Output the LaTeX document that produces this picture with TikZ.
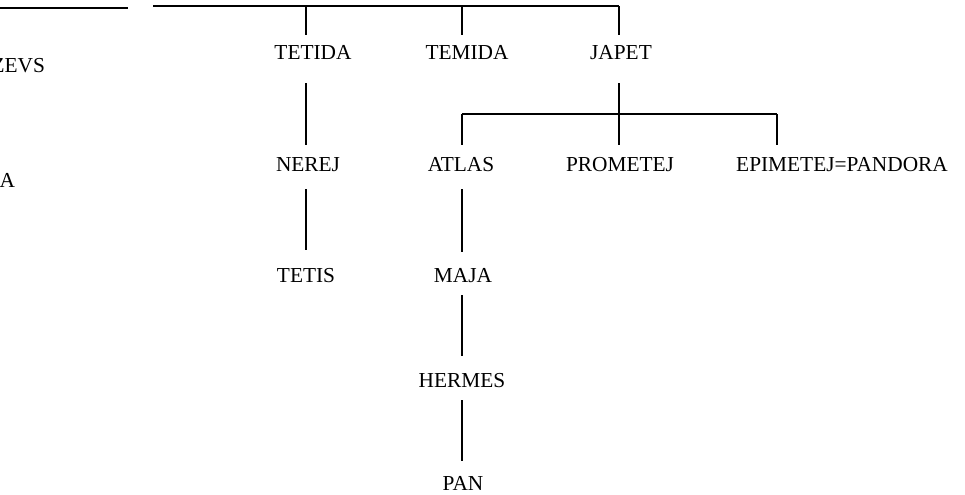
\documentclass[tikz,border=0pt]{standalone}
\usepackage{fontspec}
\setmainfont{Liberation Serif}
\begin{document}
\begin{tikzpicture}[x=0.75pt,y=-0.75pt,
  lbl/.style={anchor=base,inner sep=0pt,outer sep=0pt,text height=10.5pt,text depth=0pt,
    font=\fontsize{16pt}{19pt}\selectfont},
  ln/.style={line width=1.3pt,line cap=butt}]
\useasboundingbox (0,0) rectangle (965,494);
\clip (0,0) rectangle (965,494);
% columns
\coordinate (c1) at (306,0);
\coordinate (c2) at (462,0);
\coordinate (c3) at (619,0);
\coordinate (c4) at (777,0);
% top lines
\coordinate (tl0) at (-10,8);
\coordinate (tl1) at (128,8);
\coordinate (tr0) at (153,6);
\coordinate (tr1) at (619,6);
\coordinate (jbar) at (0,114);
% nodes
\node[lbl,anchor=base east] (zevs) at (45,72) {ZEVS};
\node[lbl,anchor=base east] (ha) at (15,187) {A};
\node[lbl] (tetida) at (313,59) {TETIDA};
\node[lbl] (temida) at (467,59) {TEMIDA};
\node[lbl] (japet) at (621,59) {JAPET};
\node[lbl] (nerej) at (308,171) {NEREJ};
\node[lbl] (atlas) at (461,171) {ATLAS};
\node[lbl] (prometej) at (620,171) {PROMETEJ};
\node[lbl] (epimetej) at (842,171) {EPIMETEJ=PANDORA};
\node[lbl] (tetis) at (306,282) {TETIS};
\node[lbl] (maja) at (463,282) {MAJA};
\node[lbl] (hermes) at (462,387) {HERMES};
\node[lbl] (pan) at (463,490) {PAN};
% connectors
\draw[ln] (tl0) -- (tl1);
\draw[ln] (tr0) -- (tr1);
\draw[ln,shorten >=7.5pt] (c1 |- tr0) -- (tetida.north -| c1);
\draw[ln,shorten >=7.5pt] (c2 |- tr0) -- (temida.north -| c2);
\draw[ln,shorten >=7.5pt] (c3 |- tr0) -- (japet.north -| c3);
\draw[ln,shorten <=18pt,shorten >=9pt] (tetida.south -| c1) -- (nerej.north -| c1);
\draw[ln,shorten <=13.5pt,shorten >=13.5pt] (nerej.south -| c1) -- (tetis.north -| c1);
\draw[ln,shorten <=18pt,shorten >=9pt] (japet.south -| c3) -- (prometej.north -| c3);
\draw[ln] (c2 |- jbar) -- (c4 |- jbar);
\draw[ln,shorten >=9pt] (c2 |- jbar) -- (atlas.north -| c2);
\draw[ln,shorten >=9pt] (c4 |- jbar) -- (epimetej.north -| c4);
\draw[ln,shorten <=13.5pt,shorten >=12pt] (atlas.south -| c2) -- (maja.north -| c2);
\draw[ln,shorten <=9.75pt,shorten >=12.75pt] (maja.south -| c2) -- (hermes.north -| c2);
\draw[ln,shorten <=9.75pt,shorten >=11.25pt] (hermes.south -| c2) -- (pan.north -| c2);
\end{tikzpicture}
\end{document}
